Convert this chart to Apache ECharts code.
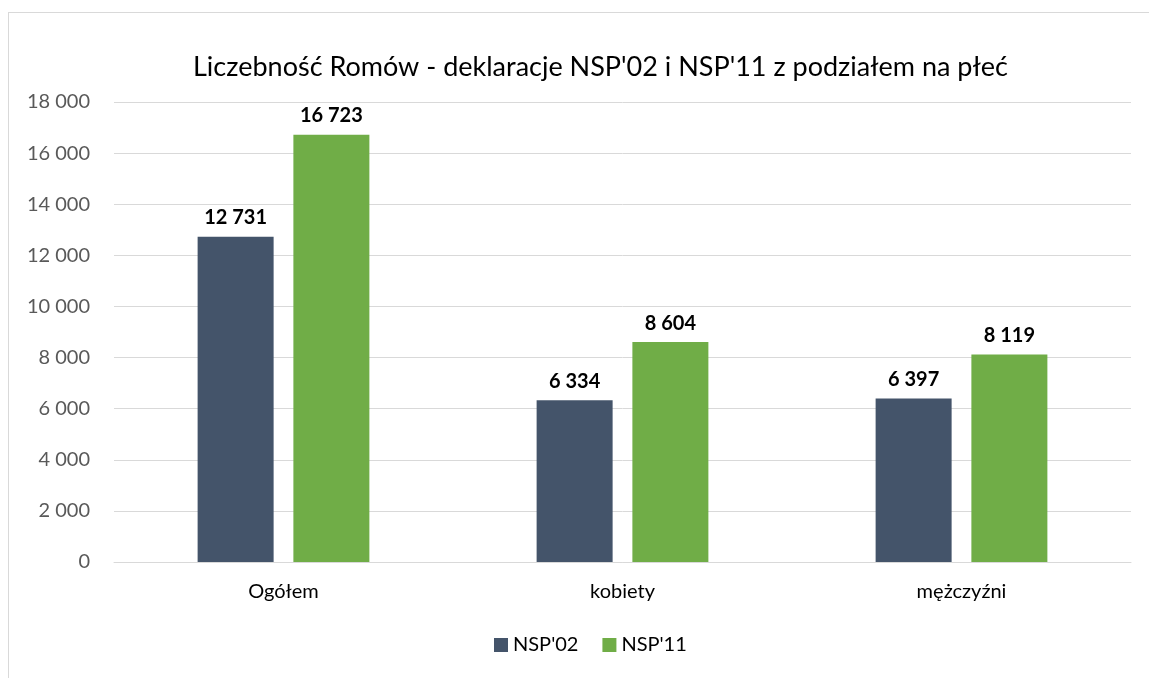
<!DOCTYPE html>
<html>
<head>
<meta charset="utf-8">
<script src="https://cdn.jsdelivr.net/npm/echarts@6/dist/echarts.min.js"></script>
<style>
  html, body { margin: 0; padding: 0; background: #fff; }
  #frame { position: absolute; left: 8px; top: 12px; width: 1200px; height: 700px; border: 1px solid #d9d9d9; box-sizing: border-box; }
  #main { position: absolute; left: 0; top: 0; width: 1149px; height: 678px; }
</style>
</head>
<body>
<div id="frame"></div>
<div id="main"></div>
<script>
var categories = ['Ogółem', 'kobiety', 'mężczyźni'];
var nsp02 = [12731, 6334, 6397];
var nsp11 = [16723, 8604, 8119];
var seriesNames = ["NSP'02", "NSP'11"];

var fmt = function (v) { return String(v).replace(/\B(?=(\d{3})+(?!\d))/g, ' '); };

var chart = echarts.init(document.getElementById('main'));
var labelOpt = {
  show: true,
  position: 'top',
  distance: 9,
  fontFamily: 'Lato',
  fontWeight: 'bold',
  fontSize: 20,
  color: '#000',
  formatter: function (p) { return fmt(p.value); }
};

chart.setOption({
  textStyle: { fontFamily: 'Lato' },
  title: {
    text: "Liczebność Romów - deklaracje NSP'02 i NSP'11 z podziałem na płeć",
    left: 188,
    top: 49,
    textStyle: { fontFamily: 'Lato', fontWeight: 'normal', fontSize: 27, color: '#000' }
  },
  legend: {
    data: seriesNames,
    bottom: 18,
    left: 489,
    icon: 'rect',
    itemWidth: 14,
    itemHeight: 14,
    itemGap: 24,
    textStyle: { fontFamily: 'Lato', fontSize: 20, color: '#000' }
  },
  grid: { left: 114, right: 18, top: 102, bottom: 116 },
  xAxis: [{
    type: 'category',
    data: categories,
    axisTick: { show: false },
    axisLine: { lineStyle: { color: '#d9d9d9', width: 1 } },
    axisLabel: { fontFamily: 'Lato', fontSize: 20, color: '#000', margin: 20 }
  }],
  yAxis: [{
    type: 'value',
    min: 0,
    max: 18000,
    interval: 2000,
    axisLine: { show: false },
    axisTick: { show: false },
    splitLine: { lineStyle: { color: '#d9d9d9', width: 1 } },
    axisLabel: { fontFamily: 'Lato', fontSize: 20, color: '#595959', margin: 24, formatter: fmt }
  }],
  series: [
    { name: seriesNames[0], type: 'bar', data: nsp02, barWidth: 76, barGap: '26%', itemStyle: { color: '#44546A' }, label: labelOpt },
    { name: seriesNames[1], type: 'bar', data: nsp11, barWidth: 76, barGap: '26%', itemStyle: { color: '#70AD47' }, label: labelOpt }
  ]
});
</script>
</body>
</html>
